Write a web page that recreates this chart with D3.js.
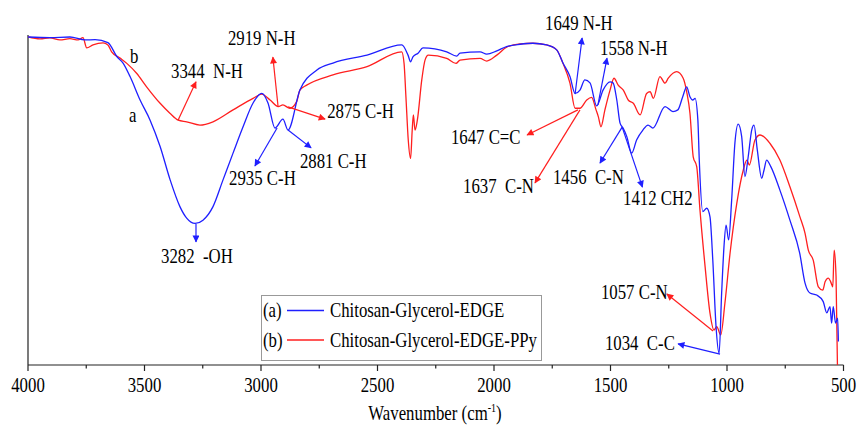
<!DOCTYPE html>
<html>
<head>
<meta charset="utf-8">
<script src="https://cdn.jsdelivr.net/npm/d3@7"></script>
<style>
  body { margin: 0; background: #fff; }
  text { font-family: 'Liberation Serif', 'Times New Roman', serif; fill: #000; white-space: pre; }
</style>
</head>
<body>
<div id="app"></div>
<script>
// wavenumber (cm-1), transmittance (%)
const seriesA = [
  [4000, 99.4], [3906, 99.2], [3820, 99.4], [3755, 98.5], [3712, 98.6], [3657, 97.7],
  [3618, 93.4], [3592, 91.5], [3562, 87.4], [3519, 80.3], [3476, 74.2], [3433, 66.2],
  [3390, 56.1], [3348, 48.0], [3319, 44.5], [3283, 42.9], [3249, 43.9], [3206, 48.0],
  [3163, 56.1], [3120, 64.2], [3077, 72.2], [3034, 79.4], [2997, 82.3], [2970, 79.4],
  [2940, 71.8], [2906, 74.5], [2884, 71.2], [2833, 83.3], [2760, 89.4], [2691, 91.5],
  [2545, 93.9], [2396, 97.0], [2369, 93.9], [2358, 91.9], [2348, 93.4], [2326, 94.5],
  [2305, 96.1], [2203, 94.9], [2160, 93.6], [2146, 94.5], [2060, 94.9], [2031, 94.2],
  [1988, 95.2], [1946, 96.5], [1888, 97.2], [1833, 97.5], [1774, 97.0], [1731, 95.5],
  [1704, 91.5], [1674, 87.4], [1652, 82.3], [1631, 83.3], [1610, 86.4], [1588, 85.5],
  [1559, 78.5], [1532, 83.3], [1502, 85.8], [1489, 85.5], [1473, 80.3], [1459, 73.3],
  [1446, 71.8], [1430, 69.2], [1409, 64.2], [1388, 68.2], [1361, 71.2], [1339, 72.7],
  [1318, 71.8], [1266, 78.3], [1232, 76.8], [1211, 77.3], [1190, 81.3], [1173, 84.3],
  [1159, 81.3], [1147, 80.3], [1137, 80.8], [1125, 74.2], [1119, 62.1], [1104, 46.5],
  [1087, 47.5], [1073, 44.9], [1061, 31.8], [1047, 11.6], [1034, 3.5], [1023, 21.8],
  [1013, 35.8], [1004, 42.4], [993, 37.9], [980, 50.0], [966, 67.3], [952, 73.0],
  [937, 69.2], [923, 57.1], [909, 63.1], [894, 71.2], [884, 72.7], [870, 65.2],
  [851, 56.6], [841, 59.1], [830, 62.1], [812, 60.1], [773, 53.0], [730, 43.9],
  [688, 33.9], [665, 24.8], [644, 21.8], [615, 21.2], [587, 19.2], [572, 15.8],
  [558, 17.7], [551, 12.7], [544, 17.7], [534, 12.7], [525, 14.2], [522, 7.1]
]

const seriesB = [
  [4000, 99.4], [3948, 98.8], [3906, 99.1], [3863, 98.5], [3820, 98.9], [3785, 98.5],
  [3764, 99.2], [3748, 96.1], [3721, 97.0], [3678, 97.6], [3657, 97.0], [3641, 94.9],
  [3605, 93.0], [3576, 91.4], [3534, 88.4], [3491, 84.3], [3433, 79.3], [3391, 76.3],
  [3355, 74.2], [3319, 73.7], [3262, 72.7], [3206, 73.7], [3120, 77.3], [3034, 80.8],
  [2997, 82.1], [2961, 80.3], [2926, 78.3], [2906, 78.8], [2876, 77.8], [2847, 79.8],
  [2833, 83.3], [2804, 84.8], [2691, 87.9], [2545, 90.4], [2396, 94.9], [2386, 91.4],
  [2378, 81.3], [2368, 68.2], [2358, 62.6], [2351, 71.2], [2346, 75.8], [2339, 71.2],
  [2329, 74.2], [2310, 86.4], [2296, 92.4], [2282, 93.9], [2203, 92.9], [2163, 91.4],
  [2146, 92.4], [2060, 92.9], [2031, 92.1], [1988, 93.9], [1946, 96.3], [1888, 97.3],
  [1833, 97.5], [1774, 97.0], [1731, 95.5], [1704, 91.4], [1674, 85.4], [1652, 77.8],
  [1631, 77.8], [1602, 80.3], [1581, 81.1], [1562, 77.3], [1552, 75.2], [1541, 72.2],
  [1524, 77.3], [1502, 83.3], [1485, 86.9], [1467, 84.8], [1445, 83.3], [1424, 80.3],
  [1402, 79.3], [1373, 75.8], [1345, 82.3], [1330, 82.8], [1316, 80.8], [1288, 87.4],
  [1266, 85.4], [1252, 86.9], [1216, 88.9], [1188, 86.9], [1173, 82.8], [1159, 76.3],
  [1145, 63.1], [1130, 60.1], [1116, 47.0], [1094, 29.8], [1073, 15.7], [1056, 10.6],
  [1044, 11.6], [1027, 9.1], [1009, 18.7], [987, 33.8], [958, 49.0], [930, 59.1],
  [915, 62.1], [904, 60.6], [880, 68.2], [858, 69.7], [816, 67.2], [773, 62.1],
  [730, 54.0], [687, 44.9], [665, 39.9], [651, 34.8], [630, 31.8], [608, 23.7],
  [589, 22.7], [579, 25.2], [565, 26.3], [555, 25.2], [546, 23.7], [540, 34.8],
  [532, 26.8], [526, 0]
]

const xTicks = [4000, 3500, 3000, 2500, 2000, 1500, 1000, 500]
const xMinorTicks = [3750, 3250, 2750, 2250, 1750, 1250, 750]

const legendLabels = ['Chitosan-Glycerol-EDGE', 'Chitosan-Glycerol-EDGE-PPy']
const legendKeys = ['(a)', '(b)']

// peak notes: series, arrow from [wn, T], arrow to [wn, T], label, label at [wn, T]
const peakNotes = [
  ['b', [3356, 74.2], [3279, 85.8], '3344  N-H', [3386, 87.0]],
  ['b', [2927, 78.5], [2949, 93.3], '2919 N-H', [3142, 97.0]],
  ['b', [2884, 78.2], [2725, 74.5], '2875 C-H', [2716, 74.8]],
  ['a', [2931, 71.8], [3026, 60.3], '2935 C-H', [3137, 54.5]],
  ['a', [2884, 71.2], [2785, 65.8], '2881 C-H', [2833, 59.7]],
  ['a', [3279, 42.7], [3279, 37.3], '3282  -OH', [3429, 30.9]],
  ['a', [1652, 82.1], [1622, 99.1], '1649 N-H', [1781, 101.5]],
  ['a', [1554, 78.8], [1515, 93.0], '1558 N-H', [1545, 93.9]],
  ['b', [1640, 77.3], [1858, 69.7], '1647 C=C', [2185, 67.0]],
  ['b', [1631, 77.3], [1824, 55.2], '1637  C-N', [2133, 52.1]],
  ['a', [1450, 72.1], [1545, 61.2], '1456  C-N', [1747, 54.8]],
  ['a', [1450, 72.1], [1363, 53.9], '1412 CH2', [1446, 48.5]],
  ['b', [1060, 10.3], [1258, 21.5], '1057 C-N', [1541, 20.0]],
  ['a', [1030, 3.3], [1210, 6.4], '1034  C-C', [1524, 4.5]]
]

const curveLetters = [['a', 3567, 73.6], ['b', 3562, 91.5]]

;(function (d3) {

  'use strict'

  const w = 857
  const h = 425
  const colors = { a: '#1f1fff', b: '#ff1f1f' }
  const sx = 0.84

  const x = d3.scaleLinear().domain([4000, 500]).range([28, 843.5])
  const y = d3.scaleLinear().domain([0, 100]).range([365, 35])

  const svg = d3.select('#app')
    .append('svg')
    .attr('width', w)
    .attr('height', h)

  const defs = svg.append('defs')
  Object.keys(colors).forEach(function (k) {
    defs.append('marker')
      .attr('id', 'arrow-' + k)
      .attr('viewBox', '0 0 10 10')
      .attr('refX', 9)
      .attr('refY', 5)
      .attr('markerWidth', 9)
      .attr('markerHeight', 7)
      .attr('markerUnits', 'userSpaceOnUse')
      .attr('orient', 'auto')
      .append('path')
      .attr('d', 'M0,0 L10,5 L0,10 Z')
      .attr('fill', colors[k])
  })

  // condensed serif text, like the original figure
  const label = function (sel, tx, ty, str, size, anchor) {
    return sel.append('text')
      .attr('transform', 'translate(' + tx + ',' + ty + ') scale(' + sx + ',1)')
      .attr('font-size', size)
      .attr('text-anchor', anchor || 'start')
      .attr('xml:space', 'preserve')
      .text(str)
  }

  // axes
  const axis = svg.append('g').attr('stroke', '#222').attr('stroke-width', 1.2)
  axis.append('line')
    .attr('x1', x(4000)).attr('x2', x(4000))
    .attr('y1', y(100)).attr('y2', y(0))
  axis.append('line')
    .attr('x1', x(4000)).attr('x2', x(500))
    .attr('y1', y(0)).attr('y2', y(0))
  axis.selectAll('.major')
    .data(xTicks)
    .enter()
    .append('line')
    .attr('x1', d => x(d)).attr('x2', d => x(d))
    .attr('y1', y(0)).attr('y2', y(0) + 6)
  axis.selectAll('.minor')
    .data(xMinorTicks)
    .enter()
    .append('line')
    .attr('x1', d => x(d)).attr('x2', d => x(d))
    .attr('y1', y(0)).attr('y2', y(0) + 3.5)

  xTicks.forEach(function (t) {
    label(svg, x(t), 392, String(t), 20, 'middle')
  })

  const title = label(svg, 435, 420, 'Wavenumber (cm', 20, 'middle')
  title.append('tspan').attr('font-size', 12).attr('dy', -8).text('-1')
  title.append('tspan').attr('dy', 8).text(')')

  // spectra
  const line = d3.line()
    .x(d => x(d[0]))
    .y(d => y(d[1]))
    .curve(d3.curveMonotoneX)

  svg.append('path')
    .datum(seriesB)
    .attr('d', line)
    .attr('fill', 'none')
    .attr('stroke', colors.b)
    .attr('stroke-width', 1.3)

  svg.append('path')
    .datum(seriesA)
    .attr('d', line)
    .attr('fill', 'none')
    .attr('stroke', colors.a)
    .attr('stroke-width', 1.3)

  curveLetters.forEach(function (c) {
    label(svg, x(c[1]), y(c[2]), c[0], 20)
  })

  // peak arrows and labels
  peakNotes.forEach(function (n) {
    svg.append('line')
      .attr('x1', x(n[1][0])).attr('y1', y(n[1][1]))
      .attr('x2', x(n[2][0])).attr('y2', y(n[2][1]))
      .attr('stroke', colors[n[0]])
      .attr('stroke-width', 1.2)
      .attr('marker-end', 'url(#arrow-' + n[0] + ')')
    label(svg, x(n[4][0]), y(n[4][1]), n[3], 20)
  })

  // legend
  const lg = svg.append('g')
  lg.append('rect')
    .attr('x', 261.5).attr('y', 295.5)
    .attr('width', 280).attr('height', 65)
    .attr('fill', '#fff')
    .attr('stroke', '#999')
    .attr('stroke-width', 1)
  legendLabels.forEach(function (l, i) {
    const k = i === 0 ? 'a' : 'b'
    const by = 317 + i * 29.5
    label(lg, 263, by, legendKeys[i], 20)
    lg.append('line')
      .attr('x1', 287).attr('x2', 324)
      .attr('y1', by - 6.5).attr('y2', by - 6.5)
      .attr('stroke', colors[k])
      .attr('stroke-width', 1.3)
    label(lg, 330, by, l, 20)
  })

}(d3))
</script>
</body>
</html>
